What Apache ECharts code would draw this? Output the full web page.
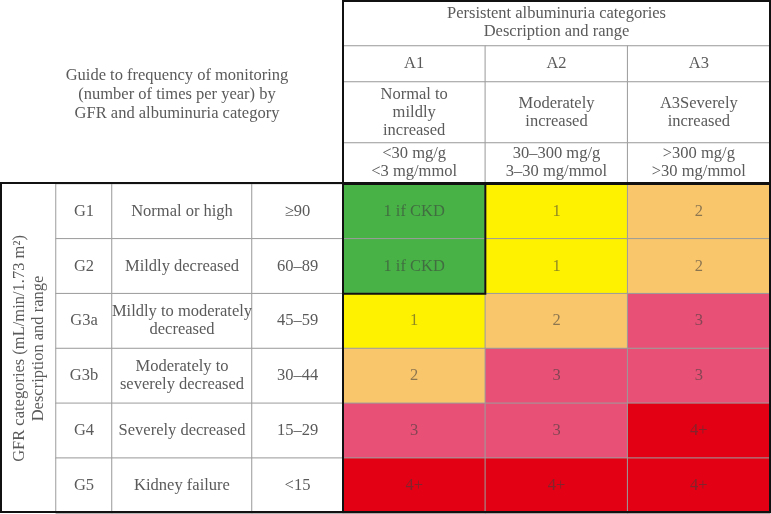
<!DOCTYPE html>
<html>
<head>
<meta charset="utf-8">
<script src="https://cdn.jsdelivr.net/npm/echarts@6/dist/echarts.min.js"></script>
<style>html,body{margin:0;padding:0;background:#fff}#c{width:771px;height:514px}</style>
</head>
<body>
<div id="c"></div>
<script>
// ---- data ----
const albCats = ['A1', 'A2', 'A3'];
const albDesc = ['Normal to\nmildly\nincreased', 'Moderately\nincreased', 'A3Severely\nincreased'];
const albRange = ['<30 mg/g\n<3 mg/mmol', '30–300 mg/g\n3–30 mg/mmol', '>300 mg/g\n>30 mg/mmol'];
const albTitle = 'Persistent albuminuria categories\nDescription and range';
const gfrCats = ['G1', 'G2', 'G3a', 'G3b', 'G4', 'G5'];
const gfrDesc = ['Normal or high', 'Mildly decreased', 'Mildly to moderately\ndecreased',
                 'Moderately to\nseverely decreased', 'Severely decreased', 'Kidney failure'];
const gfrRange = ['≥90', '60–89', '45–59', '30–44', '15–29', '<15'];
const gfrTitle = 'GFR categories (mL/min/1.73 m²)\nDescription and range';
const guideTitle = 'Guide to frequency of monitoring\n(number of times per year) by\nGFR and albuminuria category';
// monitoring level per GFR row (G1..G5) and albuminuria column (A1..A3)
const riskLevel = [
  [0, 1, 2],
  [0, 1, 2],
  [1, 2, 3],
  [2, 3, 3],
  [3, 3, 4],
  [4, 4, 4]
];
const levelLabel = ['1 if CKD', '1', '2', '3', '4+'];
const levelColor = ['#48b247', '#fff200', '#fac66c', '#e85175', '#e40014'];

// ---- styling ----
const FONT = 'Liberation Serif';
const TXT = '#5a5a5a';
const LINE = '#9c9c9c';
const FS = 16.5;
const hdrLabel = {show: true, color: TXT, fontFamily: FONT, fontSize: FS, lineHeight: 18};

const chart = echarts.init(document.getElementById('c'), null, {renderer: 'canvas'});

// layout (px)
const L = {dataX: 343, dataW: 427, bodyY: 184, bodyH: 329,
           codeX: 56, codeW: 56, descX: 112, descW: 140, rangeX: 252, rangeW: 91,
           h0: [0, 46], h1: [46, 36], h2: [82, 61], h3: [143, 40]};

const grids = [];
const xAxes = [];
const yAxes = [];
const series = [];

function addGrid(left, top, width, height, xCats, yCats, yInverse, yExtra) {
  const gi = grids.length;
  grids.push({left, top, width, height, containLabel: false});
  xAxes.push({type: 'category', gridIndex: gi, data: xCats, show: false});
  yAxes.push(Object.assign({type: 'category', gridIndex: gi, data: yCats, inverse: yInverse,
    axisLine: {show: false}, axisTick: {show: false}, axisLabel: {show: false}, splitLine: {show: false}}, yExtra || {}));
  return gi;
}

function cellSeries(gi, data, labels, extra) {
  return Object.assign({
    type: 'heatmap', xAxisIndex: gi, yAxisIndex: gi, data: data,
    itemStyle: {color: '#ffffff', borderColor: LINE, borderWidth: 1},
    label: Object.assign({}, hdrLabel, {formatter: p => labels[p.dataIndex]}),
    emphasis: {disabled: true}, silent: true
  }, extra || {});
}

// 0: data heatmap
const g0 = addGrid(L.dataX, L.bodyY, L.dataW, L.bodyH, albCats, gfrCats, true);
const dataPts = [];
const dataLbl = [];
riskLevel.forEach((row, r) => row.forEach((lv, c) => { dataPts.push([c, r, lv]); dataLbl.push(levelLabel[lv]); }));
series.push(cellSeries(g0, dataPts, dataLbl, {
  label: {show: true, color: 'rgba(60,60,60,0.58)', fontFamily: FONT, fontSize: FS, formatter: p => dataLbl[p.dataIndex]}
}));

// 1: GFR code column (axis name carries rotated title)
const g1 = addGrid(L.codeX, L.bodyY, L.codeW, L.bodyH, ['c'], gfrCats, true, {
  name: gfrTitle, nameLocation: 'middle', nameRotate: 90, nameGap: 27,
  nameTextStyle: {color: TXT, fontFamily: FONT, fontSize: FS, lineHeight: 19, align: 'center', verticalAlign: 'middle'}
});
series.push(cellSeries(g1, gfrCats.map((_, i) => [0, i, 0]), gfrCats));

// 2: GFR description column
const g2 = addGrid(L.descX, L.bodyY, L.descW, L.bodyH, ['d'], gfrCats, true);
series.push(cellSeries(g2, gfrCats.map((_, i) => [0, i, 0]), gfrDesc));

// 3: GFR range column
const g3 = addGrid(L.rangeX, L.bodyY, L.rangeW, L.bodyH, ['r'], gfrCats, true);
series.push(cellSeries(g3, gfrCats.map((_, i) => [0, i, 0]), gfrRange));

// 4: albuminuria header title
const g4 = addGrid(L.dataX, L.h0[0], L.dataW, L.h0[1], ['t'], ['t'], false);
series.push(cellSeries(g4, [[0, 0, 0]], [albTitle]));

// 5-7: albuminuria header rows
const g5 = addGrid(L.dataX, L.h1[0], L.dataW, L.h1[1], albCats, ['a'], false);
series.push(cellSeries(g5, albCats.map((_, i) => [i, 0, 0]), albCats));
const g6 = addGrid(L.dataX, L.h2[0], L.dataW, L.h2[1], albCats, ['d'], false);
series.push(cellSeries(g6, albCats.map((_, i) => [i, 0, 0]), albDesc));
const g7 = addGrid(L.dataX, L.h3[0], L.dataW, L.h3[1], albCats, ['r'], false);
series.push(cellSeries(g7, albCats.map((_, i) => [i, 0, 0]), albRange));

chart.setOption({
  animation: false,
  backgroundColor: '#ffffff',
  title: {
    text: guideTitle, left: 172, top: 90, textAlign: 'center', textVerticalAlign: 'middle',
    textStyle: {color: TXT, fontFamily: FONT, fontSize: FS, fontWeight: 'normal', lineHeight: 19}
  },
  grid: grids, xAxis: xAxes, yAxis: yAxes,
  visualMap: {
    type: 'piecewise', show: false, seriesIndex: 0, dimension: 2,
    pieces: levelColor.map((c, i) => ({value: i, color: c}))
  },
  series: series
});

// black frames drawn from the axes' own pixel mapping
function cellRect(gi, xc, yc) {
  const p = chart.convertToPixel({gridIndex: gi}, [xc, yc]);
  const xa = chart.getModel().getComponent('xAxis', gi).axis;
  const ya = chart.getModel().getComponent('yAxis', gi).axis;
  const w = xa.getBandWidth(), h = ya.getBandWidth();
  return {x: p[0] - w / 2, y: p[1] - h / 2, width: w, height: h};
}
const a1g1 = cellRect(g0, 'A1', 'G1');
const a1g2 = cellRect(g0, 'A1', 'G2');
const stroke = {fill: 'none', stroke: '#111', lineWidth: 2};
chart.setOption({
  graphic: [
    {type: 'rect', z: 100, shape: {x: L.dataX, y: 1, width: L.dataW, height: L.bodyY - 1}, style: stroke, silent: true},
    {type: 'rect', z: 100, shape: {x: 1, y: L.bodyY - 1, width: L.dataX + L.dataW - 1, height: L.bodyH}, style: stroke, silent: true},
    {type: 'line', z: 100, shape: {x1: L.dataX, y1: L.bodyY, x2: L.dataX, y2: L.bodyY + L.bodyH}, style: {stroke: '#111', lineWidth: 2}, silent: true},
    {type: 'rect', z: 100, shape: {x: a1g1.x, y: a1g1.y, width: a1g1.width, height: a1g2.y + a1g2.height - a1g1.y}, style: stroke, silent: true}
  ]
});
</script>
</body>
</html>
